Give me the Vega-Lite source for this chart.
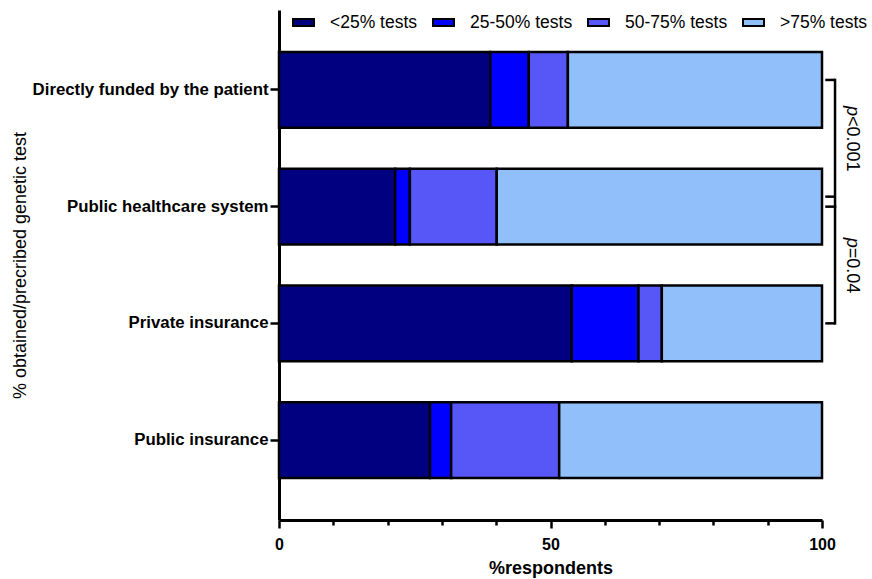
{
  "$schema": "https://vega.github.io/schema/vega-lite/v6.json",
  "width": 543,
  "height": 510,
  "autosize": {"type": "none"},
  "padding": {"left": 279, "top": 10, "right": 50, "bottom": 59},
  "background": "white",
  "config": {"view": {"stroke": null}, "font": "Liberation Sans", "text": {"font": "Liberation Sans"}},
  "datasets": {
    "bars": [
      {"payer": "Directly funded by the patient", "group": "<25% tests", "ord": 1, "pct": 38.9},
      {"payer": "Directly funded by the patient", "group": "25-50% tests", "ord": 2, "pct": 7.1},
      {"payer": "Directly funded by the patient", "group": "50-75% tests", "ord": 3, "pct": 7.2},
      {"payer": "Directly funded by the patient", "group": ">75% tests", "ord": 4, "pct": 46.8},
      {"payer": "Public healthcare system", "group": "<25% tests", "ord": 1, "pct": 21.4},
      {"payer": "Public healthcare system", "group": "25-50% tests", "ord": 2, "pct": 2.7},
      {"payer": "Public healthcare system", "group": "50-75% tests", "ord": 3, "pct": 16.0},
      {"payer": "Public healthcare system", "group": ">75% tests", "ord": 4, "pct": 59.9},
      {"payer": "Private insurance", "group": "<25% tests", "ord": 1, "pct": 53.9},
      {"payer": "Private insurance", "group": "25-50% tests", "ord": 2, "pct": 12.3},
      {"payer": "Private insurance", "group": "50-75% tests", "ord": 3, "pct": 4.3},
      {"payer": "Private insurance", "group": ">75% tests", "ord": 4, "pct": 29.5},
      {"payer": "Public insurance", "group": "<25% tests", "ord": 1, "pct": 27.8},
      {"payer": "Public insurance", "group": "25-50% tests", "ord": 2, "pct": 3.9},
      {"payer": "Public insurance", "group": "50-75% tests", "ord": 3, "pct": 19.9},
      {"payer": "Public insurance", "group": ">75% tests", "ord": 4, "pct": 48.4}
    ],
    "comparisons": [
      {"id": "a", "from": "Directly funded by the patient", "to": "Public healthcare system", "p": "p", "rest": "<0.001"},
      {"id": "b", "from": "Public healthcare system", "to": "Private insurance", "p": "p", "rest": "=0.04"}
    ]
  },
  "layer": [
    {
      "data": {"name": "bars"},
      "mark": {"type": "bar", "stroke": "black", "strokeWidth": 2.5},
      "encoding": {
        "y": {
          "field": "payer", "type": "nominal",
          "scale": {"domain": ["Directly funded by the patient", "Public healthcare system", "Private insurance", "Public insurance"], "paddingInner": 0.35, "paddingOuter": 0.36},
          "axis": {
            "title": "% obtained/precribed genetic test",
            "titleFont": "Liberation Sans", "titleFontSize": 18, "titleFontWeight": "normal", "titleColor": "black",
            "titleX": -259, "titleY": 255, "titleAngle": -90, "titleAlign": "center", "titleBaseline": "middle",
            "labelFont": "Liberation Sans", "labelFontSize": 16.8, "labelFontWeight": "bold", "labelColor": "black", "labelPadding": 2, "labelLimit": 400,
            "tickSize": 9, "tickWidth": 2.5, "tickColor": "black",
            "domainColor": "black", "domainWidth": 3
          }
        },
        "x": {
          "field": "pct", "type": "quantitative", "stack": "zero",
          "scale": {"domain": [0, 100], "nice": false},
          "axis": {
            "values": [0, 5, 10, 15, 20, 25, 30, 35, 40, 45, 50, 55, 60, 65, 70, 75, 80, 85, 90, 95, 100],
            "labelExpr": "datum.value % 50 == 0 ? datum.label : ''",
            "title": "%respondents",
            "titleFont": "Liberation Sans", "titleFontSize": 18, "titleFontWeight": "bold", "titleColor": "black", "titlePadding": 7,
            "labelFont": "Liberation Sans", "labelFontSize": 16, "labelFontWeight": "bold", "labelColor": "black", "labelPadding": 8, "labelFlush": false, "labelOverlap": false,
            "tickSize": {"condition": {"test": "datum.value % 50 == 0", "value": 8}, "value": 5},
            "tickWidth": 2.5, "tickColor": "black",
            "domainColor": "black", "domainWidth": 3, "grid": false
          }
        },
        "color": {
          "field": "group", "type": "nominal",
          "scale": {"domain": ["<25% tests", "25-50% tests", "50-75% tests", ">75% tests"], "range": ["#000080", "#0000FF", "#5757F8", "#91BFF9"]},
          "legend": {
            "title": null, "orient": "none", "legendX": 13, "legendY": 1, "direction": "horizontal", "columns": 4,
            "symbolType": "M-1,-0.33H1V0.33H-1Z", "symbolSize": 441, "symbolStrokeColor": "black", "symbolStrokeWidth": 2, "symbolOpacity": 1,
            "labelFont": "Liberation Sans", "labelFontSize": 17.5, "labelColor": "black", "labelOffset": 15, "labelLimit": 300,
            "columnPadding": 11, "padding": 0
          }
        },
        "order": {"field": "ord", "type": "quantitative"}
      }
    },
    {
      "data": {"name": "comparisons"},
      "transform": [{"filter": "datum.id == 'a'"}],
      "mark": {"type": "rule", "color": "black", "strokeWidth": 2.5, "yOffset": -10, "strokeCap": "square"},
      "encoding": {
        "x": {"datum": 102.4, "type": "quantitative"},
        "y": {"field": "from", "type": "nominal"},
        "y2": {"field": "to"}
      }
    },
    {
      "data": {"name": "comparisons"},
      "transform": [{"filter": "datum.id == 'a'"}],
      "mark": {"type": "rule", "color": "black", "strokeWidth": 2.5, "yOffset": -10},
      "encoding": {
        "x": {"datum": 100.6, "type": "quantitative"},
        "x2": {"datum": 102.4},
        "y": {"field": "from", "type": "nominal"}
      }
    },
    {
      "data": {"name": "comparisons"},
      "transform": [{"filter": "datum.id == 'a'"}],
      "mark": {"type": "rule", "color": "black", "strokeWidth": 2.5, "yOffset": -10},
      "encoding": {
        "x": {"datum": 100.6, "type": "quantitative"},
        "x2": {"datum": 102.4},
        "y": {"field": "to", "type": "nominal"}
      }
    },
    {
      "data": {"name": "comparisons"},
      "transform": [{"filter": "datum.id == 'b'"}],
      "mark": {"type": "rule", "color": "black", "strokeWidth": 2.5, "strokeCap": "square"},
      "encoding": {
        "x": {"datum": 102.4, "type": "quantitative"},
        "y": {"field": "from", "type": "nominal"},
        "y2": {"field": "to"}
      }
    },
    {
      "data": {"name": "comparisons"},
      "transform": [{"filter": "datum.id == 'b'"}],
      "mark": {"type": "rule", "color": "black", "strokeWidth": 2.5},
      "encoding": {
        "x": {"datum": 100.6, "type": "quantitative"},
        "x2": {"datum": 102.4},
        "y": {"field": "from", "type": "nominal"}
      }
    },
    {
      "data": {"name": "comparisons"},
      "transform": [{"filter": "datum.id == 'b'"}],
      "mark": {"type": "rule", "color": "black", "strokeWidth": 2.5},
      "encoding": {
        "x": {"datum": 100.6, "type": "quantitative"},
        "x2": {"datum": 102.4},
        "y": {"field": "to", "type": "nominal"}
      }
    },
    {
      "data": {"name": "comparisons"},
      "transform": [{"filter": "datum.id == 'a'"}],
      "mark": {"type": "text", "angle": 90, "align": "left", "baseline": "middle", "fontSize": 18, "fontStyle": "italic", "color": "black", "yOffset": 16},
      "encoding": {
        "x": {"datum": 105.5, "type": "quantitative"},
        "y": {"field": "from", "type": "nominal"},
        "text": {"field": "p"}
      }
    },
    {
      "data": {"name": "comparisons"},
      "transform": [{"filter": "datum.id == 'a'"}],
      "mark": {"type": "text", "angle": 90, "align": "left", "baseline": "middle", "fontSize": 18, "color": "black", "yOffset": 26},
      "encoding": {
        "x": {"datum": 105.5, "type": "quantitative"},
        "y": {"field": "from", "type": "nominal"},
        "text": {"field": "rest"}
      }
    },
    {
      "data": {"name": "comparisons"},
      "transform": [{"filter": "datum.id == 'b'"}],
      "mark": {"type": "text", "angle": 90, "align": "left", "baseline": "middle", "fontSize": 18, "fontStyle": "italic", "color": "black", "yOffset": 31},
      "encoding": {
        "x": {"datum": 105.5, "type": "quantitative"},
        "y": {"field": "from", "type": "nominal"},
        "text": {"field": "p"}
      }
    },
    {
      "data": {"name": "comparisons"},
      "transform": [{"filter": "datum.id == 'b'"}],
      "mark": {"type": "text", "angle": 90, "align": "left", "baseline": "middle", "fontSize": 18, "color": "black", "yOffset": 41},
      "encoding": {
        "x": {"datum": 105.5, "type": "quantitative"},
        "y": {"field": "from", "type": "nominal"},
        "text": {"field": "rest"}
      }
    }
  ]
}
